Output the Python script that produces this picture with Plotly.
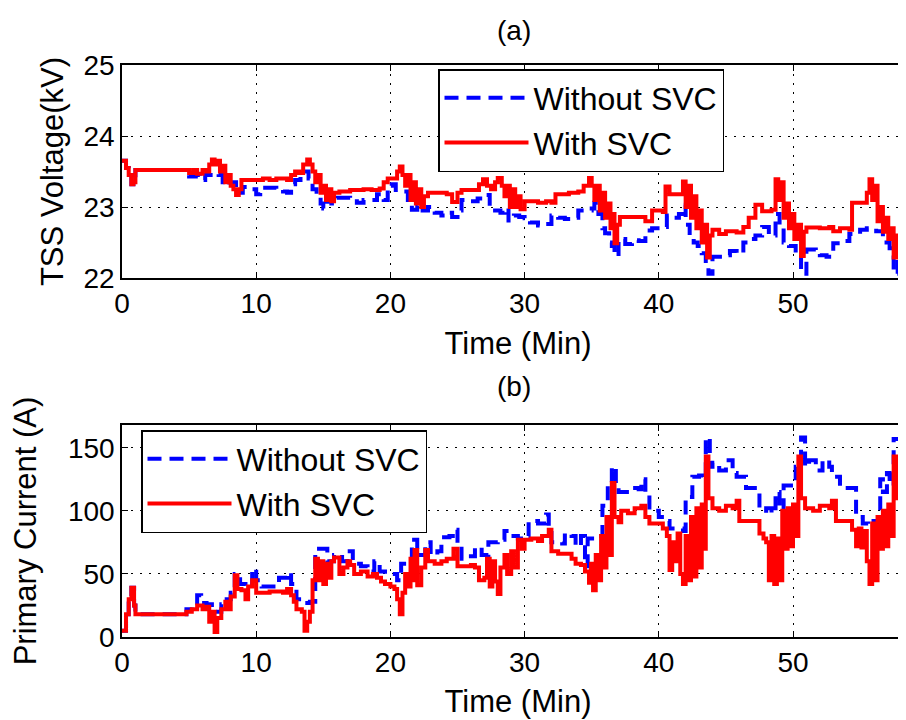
import plotly.graph_objects as go

# ---------------- Data ----------------
# Panel (a): TSS voltage (kV)
t_a_without = [0, 0.3, 0.5, 0.7, 0.85, 1.0, 4.8, 5.0, 5.5, 5.8, 6.2, 6.8, 7.2, 7.5, 8.0, 8.5, 9.0, 9.5, 10.0,
               10.3, 11.0, 11.5, 12.0, 12.3, 12.6, 12.9, 13.3, 13.6, 13.9, 14.2, 14.5, 14.8, 15.0, 15.3, 15.6,
               16.0, 17.0, 17.5, 18.0, 18.5, 19.0, 19.5, 19.8, 20.1, 20.4, 21.0, 21.3, 21.6, 22.0, 22.4, 22.8,
               23.3, 23.8, 24.2, 24.6, 25.0, 25.3, 26.0, 26.5, 27.0, 27.4, 27.8, 28.2, 28.5, 28.8, 29.2, 29.6,
               30.0, 30.4, 31.0, 31.6, 32.0, 32.5, 33.0, 33.5, 34.0, 35.0, 35.2, 35.5, 35.8, 36.0, 36.3, 36.5,
               36.7, 37.0, 37.5, 38.0, 38.5, 39.0, 39.5, 40.0, 40.3, 40.6, 41.0, 41.5, 41.8, 42.0, 42.3, 42.6,
               42.9, 43.2, 43.5, 43.7, 44.0, 44.8, 45.3, 45.8, 46.3, 46.8, 47.2, 47.7, 48.2, 48.7, 49.0, 49.3,
               49.7, 50.2, 50.6, 51.0, 51.7, 52.0, 52.5, 53.0, 53.7, 54.2, 55.0, 55.5, 56.2, 56.7, 57.2, 57.5,
               57.8, 58.2, 59.0]
v_a_without = [23.65, 23.55, 23.45, 23.32, 23.35, 23.52, 23.5, 23.43, 23.45, 23.38, 23.45, 23.47, 23.45, 23.31,
               23.35, 23.2, 23.28, 23.25, 23.18, 23.27, 23.27, 23.25, 23.22, 23.2, 23.32, 23.38, 23.45, 23.5,
               23.4, 23.25, 23.15, 23.05, 22.98, 23.1, 23.05, 23.13, 23.12, 23.06, 23.1, 23.1, 23.18, 23.1,
               23.3, 23.32, 23.24, 23.22, 23.05, 22.96, 23.02, 22.95, 23.0, 22.92, 22.88, 22.92, 22.86, 22.95,
               23.1, 23.08, 23.12, 23.17, 23.0, 22.95, 22.92, 22.98, 22.81, 22.88, 22.86, 22.84, 22.78, 22.74,
               22.76, 22.88, 22.85, 22.83, 22.85, 22.95, 22.98, 23.06, 22.9, 22.7, 22.63, 22.5, 22.45, 22.31,
               22.55, 22.48, 22.53, 22.52, 22.67, 22.7, 22.7, 22.72, 22.88, 22.85, 22.9, 23.03, 22.75, 22.6,
               22.5, 22.45, 22.35, 22.2, 22.06, 22.3, 22.32, 22.38, 22.35, 22.5, 22.55, 22.6, 22.72, 22.6,
               22.9, 22.7, 22.5, 22.45, 22.35, 22.06, 22.4, 22.38, 22.32, 22.3, 22.49, 22.52, 22.62, 22.68,
               22.7, 22.66, 22.5, 22.42, 22.06, 22.3, 22.4, 22.35]

t_a_with = [0, 0.3, 0.5, 0.7, 0.85, 1.0, 2.0, 3.0, 4.8, 5.0, 5.3, 5.6, 6.0, 6.3, 6.5, 6.7, 6.9, 7.1, 7.3, 7.5,
            7.7, 7.9, 8.1, 8.3, 8.5, 8.7, 8.9, 9.5, 10.0, 10.5, 11.0, 11.5, 12.3, 12.6, 12.9, 13.2, 13.5, 13.8,
            14.0, 14.2, 14.4, 14.6, 14.8, 15.0, 15.2, 15.4, 15.6, 15.8, 16.2, 17.0, 17.5, 18.0, 18.6, 19.2,
            19.5, 19.8, 20.3, 20.5, 20.7, 20.9, 21.1, 21.3, 21.5, 21.7, 21.9, 22.1, 22.3, 22.5, 22.8, 23.5,
            24.2, 24.6, 25.0, 25.3, 26.3, 26.6, 26.9, 27.2, 27.5, 27.8, 28.0, 28.3, 28.5, 28.7, 28.9, 29.1,
            29.3, 29.5, 29.7, 30.0, 31.0, 31.6, 32.0, 32.3, 33.3, 34.0, 34.4, 34.8, 35.0, 35.2, 35.4, 35.6,
            35.8, 36.0, 36.2, 36.4, 36.6, 36.7, 36.9, 37.1, 38.0, 38.7, 39.0, 39.5, 40.3, 40.5, 40.8, 41.5,
            41.8, 42.0, 42.2, 42.4, 42.6, 42.8, 43.0, 43.2, 43.4, 43.6, 43.8, 44.0, 44.5, 45.0, 45.8, 46.3,
            46.7, 47.2, 47.7, 48.4, 48.7, 48.9, 49.1, 49.3, 49.5, 49.7, 49.9, 50.1, 50.3, 50.6, 50.8, 51.0,
            52.0, 52.7, 53.0, 53.5, 54.2, 54.4, 55.2, 55.5, 55.7, 55.9, 56.1, 56.3, 56.5, 56.7, 56.9, 57.1,
            57.3, 57.5, 57.7, 58.0, 59.0]
v_a_with = [23.65, 23.55, 23.45, 23.32, 23.35, 23.52, 23.52, 23.52, 23.52, 23.48, 23.52, 23.47, 23.52, 23.5,
            23.6, 23.67, 23.6, 23.65, 23.5, 23.58, 23.35, 23.45, 23.3, 23.25, 23.17, 23.25, 23.38, 23.38,
            23.38, 23.4, 23.38, 23.4, 23.38, 23.45, 23.5, 23.48, 23.6, 23.67, 23.6, 23.5, 23.35, 23.45, 23.2,
            23.3, 23.1, 23.25, 23.08, 23.2, 23.22, 23.24, 23.24, 23.25, 23.24, 23.26, 23.35, 23.4, 23.4, 23.5,
            23.57, 23.45, 23.3, 23.45, 23.1, 23.35, 23.05, 23.25, 23.0, 23.15, 23.2, 23.2, 23.18, 23.07,
            23.2, 23.24, 23.24, 23.32, 23.39, 23.3, 23.25, 23.35, 23.41, 23.3, 23.15, 23.3, 23.0, 23.25, 23.0,
            23.15, 22.97, 23.08, 23.06, 23.08, 23.06, 23.18, 23.2, 23.22, 23.3, 23.41, 23.3, 23.1, 23.3,
            22.95, 23.2, 22.85, 23.05, 22.7, 22.9, 22.49, 22.75, 22.86, 22.86, 22.86, 22.8, 22.95, 22.93,
            23.29, 23.18, 23.18, 23.36, 23.0, 23.3, 22.85, 23.15, 22.7, 22.95, 22.5, 22.75, 22.29, 22.6,
            22.68, 22.62, 22.66, 22.64, 22.72, 22.85, 23.03, 22.94, 22.96, 23.39, 23.1, 23.35, 22.85, 23.05,
            22.7, 22.9, 22.55, 22.75, 22.31, 22.65, 22.71, 22.7, 22.72, 22.66, 22.7, 22.68, 23.06, 23.06,
            23.2, 23.39, 23.1, 23.3, 22.8, 23.0, 22.65, 22.85, 22.55, 22.7, 22.29, 22.6, 22.7, 22.65]

# Panel (b): primary current (A)
t_b_without = [0, 0.3, 0.5, 0.7, 0.9, 1.0, 4.6, 4.8, 5.2, 5.6, 5.9, 6.3, 6.7, 7.0, 7.4, 7.8, 8.1, 8.4, 8.8,
               9.2, 9.7, 10.0, 10.4, 11.0, 11.7, 12.3, 12.6, 13.0, 13.5, 14.0, 14.4, 14.9, 15.3, 15.8, 16.4,
               16.8, 17.2, 17.8, 18.3, 18.8, 19.2, 19.6, 20.1, 20.5, 20.8, 21.3, 21.6, 22.0, 22.6, 23.0, 23.5,
               23.8, 24.4, 24.8, 25.0, 25.3, 26.0, 26.3, 26.8, 27.3, 28.0, 28.5, 29.0, 29.5, 30.0, 30.3, 31.0,
               31.6, 31.8, 32.0, 32.8, 33.0, 33.5, 33.8, 34.2, 34.5, 34.7, 35.3, 35.8, 36.2, 36.5, 36.8, 37.0,
               37.7, 38.0, 38.5, 38.7, 39.0, 39.3, 39.6, 40.0, 40.5, 40.8, 41.5, 41.8, 42.0, 42.5, 43.0, 43.3,
               43.5, 43.8, 44.0, 44.5, 45.0, 45.5, 45.8, 46.5, 47.2, 47.5, 48.0, 48.4, 48.7, 49.0, 49.3, 49.8,
               50.2, 50.6, 50.9, 51.2, 51.7, 52.2, 52.7, 52.9, 53.5, 54.4, 54.7, 55.2, 55.6, 56.0, 56.5, 56.7,
               57.0, 57.2, 57.5, 58.0, 59.0]
i_b_without = [5, 18, 30, 39, 25, 18, 18, 22, 25, 33, 27, 26, 22, 20, 26, 30, 35, 50, 42, 40, 54, 45, 40, 40,
               47, 51, 42, 30, 27, 28, 70, 70, 60, 65, 60, 68, 58, 56, 52, 60, 52, 50, 50, 45, 58, 60, 77, 65,
               75, 65, 68, 79, 80, 85, 72, 62, 64, 71, 65, 75, 77, 84, 80, 78, 80, 92, 90, 97, 88, 75, 74, 82,
               80, 72, 80, 56, 78, 80, 104, 120, 135, 118, 115, 115, 118, 117, 125, 113, 100, 100, 95, 92, 86,
               86, 84, 111, 127, 128, 125, 158, 135, 138, 132, 140, 130, 127, 118, 118, 100, 102, 98, 115, 100,
               120, 120, 135, 158, 135, 140, 132, 140, 135, 127, 118, 118, 95, 90, 88, 92, 125, 115, 130, 120,
               157, 135, 120]

t_b_with = [0, 0.3, 0.5, 0.7, 0.9, 1.0, 4.6, 4.8, 5.2, 5.6, 6.0, 6.3, 6.5, 6.7, 6.9, 7.1, 7.4, 7.7, 7.9, 8.1,
            8.4, 8.6, 8.9, 9.2, 9.4, 9.7, 10.0, 11.0, 12.0, 12.3, 12.6, 12.8, 13.0, 13.4, 13.6, 13.8, 14.0,
            14.2, 14.4, 14.6, 14.8, 15.0, 15.2, 15.4, 15.6, 15.8, 16.2, 16.5, 16.8, 17.0, 17.3, 17.8, 18.3,
            18.7, 19.0, 19.3, 19.6, 20.0, 20.3, 20.5, 20.7, 20.9, 21.1, 21.3, 21.5, 21.7, 21.8, 22.0, 22.3,
            22.6, 22.8, 23.3, 23.8, 24.2, 24.7, 25.0, 26.0, 26.3, 26.6, 27.0, 27.2, 27.4, 27.6, 27.8, 28.0,
            28.2, 28.5, 28.7, 29.0, 29.2, 29.5, 29.8, 30.0, 30.5, 31.0, 31.3, 31.8, 32.0, 32.5, 33.0, 33.5,
            33.8, 34.2, 34.5, 34.8, 34.95, 35.1, 35.3, 35.5, 35.7, 35.9, 36.1, 36.3, 36.5, 36.7, 37.0, 37.2,
            37.7, 38.2, 38.7, 39.0, 39.3, 40.3, 40.6, 40.8, 41.0, 41.2, 41.4, 41.6, 41.8, 42.0, 42.2, 42.4,
            42.6, 42.8, 43.0, 43.2, 43.4, 43.5, 43.7, 44.0, 44.5, 45.0, 45.5, 45.8, 46.0, 47.2, 47.5, 47.8,
            48.0, 48.2, 48.4, 48.6, 48.8, 49.0, 49.2, 49.4, 49.6, 49.8, 50.0, 50.2, 50.4, 50.6, 50.9, 51.5,
            52.0, 52.7, 52.9, 53.2, 54.2, 54.4, 54.7, 54.9, 55.1, 55.3, 55.5, 55.7, 55.9, 56.1, 56.3, 56.5,
            56.7, 56.9, 57.1, 57.3, 57.5, 57.7, 58.0, 59.0]
i_b_with = [5, 18, 30, 39, 25, 18, 18, 20, 22, 25, 22, 24, 12, 20, 4, 15, 22, 28, 22, 32, 49, 38, 37, 30, 40,
            45, 35, 36, 35, 38, 33, 28, 22, 20, 5, 12, 20, 45, 62, 45, 60, 42, 58, 47, 60, 63, 50, 55, 60, 57,
            50, 52, 48, 50, 47, 44, 42, 40, 38, 30, 18, 35, 50, 40, 62, 45, 69, 41, 55, 69, 60, 58, 60, 62, 70,
            56, 57, 55, 45, 47, 62, 40, 60, 44, 34, 55, 65, 50, 68, 55, 77, 70, 77, 78, 76, 80, 85, 68, 66, 66,
            62, 58, 57, 52, 43, 58, 37, 65, 45, 80, 55, 95, 65, 122, 95, 91, 100, 98, 102, 104, 95, 90, 86,
            80, 53, 75, 60, 82, 50, 42, 80, 45, 95, 48, 102, 55, 105, 70, 143, 110, 102, 100, 104, 102, 108, 92,
            92, 82, 78, 75, 45, 80, 42, 78, 45, 100, 70, 102, 72, 105, 80, 143, 110, 102, 100, 104, 102, 108,
            92, 92, 85, 72, 86, 71, 84, 60, 42, 90, 45, 95, 70, 100, 72, 105, 80, 143, 110, 94, 100]

x_ticks = [0, 10, 20, 30, 40, 50]
volt_ticks = [22, 23, 24, 25]
curr_ticks = [0, 50, 100, 150]

# ---------------- Figure ----------------
BLUE = "rgb(0,0,255)"
RED = "rgb(255,0,0)"
FONT = "Liberation Sans, Arial, Helvetica, sans-serif"
W, H = 906, 720
OFF = 8          # page body margin offset (px) of the rendered html
L = 122 - OFF    # left margin in figure px
PW = W - L


def px_x(px):
    """screen x -> paper x"""
    return (px - OFF - L) / PW


def px_y(py):
    """screen y -> paper y"""
    return 1 - (py - OFF) / H


fig = go.Figure()
fig.add_trace(go.Scatter(x=t_a_without, y=v_a_without, mode="lines", name="Without SVC",
                         line=dict(color=BLUE, width=4, dash="14px,8px", shape="hv"),
                         xaxis="x", yaxis="y", legend="legend"))
fig.add_trace(go.Scatter(x=t_a_with, y=v_a_with, mode="lines", name="With SVC",
                         line=dict(color=RED, width=4, shape="hv"),
                         xaxis="x", yaxis="y", legend="legend"))
fig.add_trace(go.Scatter(x=t_b_without, y=i_b_without, mode="lines", name="Without SVC",
                         line=dict(color=BLUE, width=4, dash="14px,8px", shape="hv"),
                         xaxis="x2", yaxis="y2", legend="legend2"))
fig.add_trace(go.Scatter(x=t_b_with, y=i_b_with, mode="lines", name="With SVC",
                         line=dict(color=RED, width=4, shape="hv"),
                         xaxis="x2", yaxis="y2", legend="legend2"))

axis_common = dict(showline=True, linecolor="black", linewidth=1.5, ticks="inside", ticklen=6,
                   tickcolor="black", showgrid=True, gridcolor="black", griddash="2px,7px",
                   gridwidth=1, zeroline=False, automargin=False,
                   tickfont=dict(size=28, color="black", family=FONT))
title_font = dict(size=31, color="black", family=FONT)
legend_common = dict(xanchor="left", yanchor="top", bgcolor="white", bordercolor="black",
                     borderwidth=1.5, font=dict(size=32, color="black", family=FONT),
                     itemwidth=84, tracegroupgap=0, itemclick=False)

# visible width from x=0 at screen 122 to screen 906 at 13.42 px/min; figure extends 8px past the window
xrange = [0, PW / 13.42]
fig.update_layout(
    width=W, height=H, paper_bgcolor="white", plot_bgcolor="white",
    margin=dict(l=L, r=0, t=0, b=0, autoexpand=False),
    font=dict(family=FONT, color="black"),
    xaxis=dict(axis_common, domain=[0, 1], range=xrange, tickvals=x_ticks, mirror="ticks",
               anchor="y", title=dict(text="Time (Min)", font=title_font, standoff=14)),
    yaxis=dict(axis_common, domain=[px_y(278), px_y(65)], range=[22, 25], tickvals=volt_ticks,
               anchor="x", title=dict(text="TSS Voltage(kV)", font=title_font, standoff=11)),
    xaxis2=dict(axis_common, domain=[0, 1], range=xrange, tickvals=x_ticks, mirror="ticks",
                anchor="y2", title=dict(text="Time (Min)", font=title_font, standoff=13)),
    yaxis2=dict(axis_common, domain=[px_y(637), px_y(425)], range=[0, 168], tickvals=curr_ticks,
                anchor="x2", title=dict(text="Primary Current (A)", font=title_font, standoff=22)),
    legend=dict(legend_common, x=px_x(438), y=px_y(69)),
    legend2=dict(legend_common, x=px_x(141), y=px_y(430)),
    annotations=[
        dict(text="(a)", x=px_x(514), y=px_y(30), xref="paper", yref="paper",
             showarrow=False, font=dict(size=28, color="black", family=FONT),
             xanchor="center", yanchor="middle"),
        dict(text="(b)", x=px_x(514), y=px_y(386), xref="paper", yref="paper",
             showarrow=False, font=dict(size=28, color="black", family=FONT),
             xanchor="center", yanchor="middle"),
    ],
)

fig.write_html("out.html")
